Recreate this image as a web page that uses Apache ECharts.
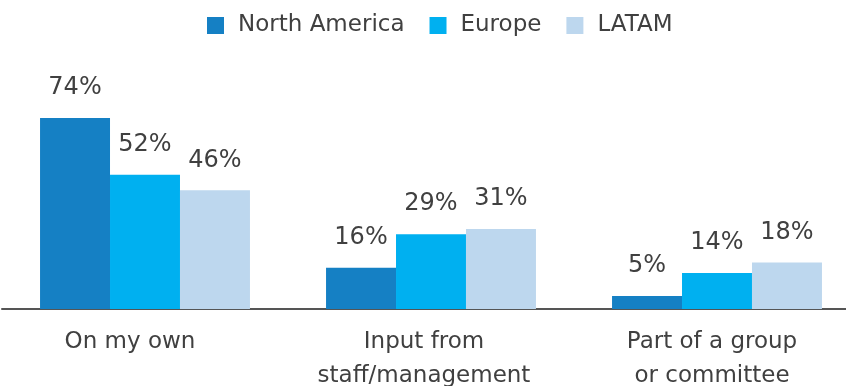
<!DOCTYPE html>
<html><head><meta charset="utf-8">
<script src="https://cdn.jsdelivr.net/npm/echarts@6/dist/echarts.min.js"></script>
<style>html,body{margin:0;padding:0;background:#fff}#c{width:846px;height:386px}</style>
</head><body><div id="c"></div>
<script>
const categories = ['On my own', 'Input from\nstaff/management', 'Part of a group\nor committee'];
const seriesNames = ['North America', 'Europe', 'LATAM'];
const northAmerica = [74, 16, 5];
const europe = [52, 29, 14];
const latam = [46, 31, 18];
const colors = ['#1580C4', '#00B0F0', '#BDD7EE'];
const values = [northAmerica, europe, latam];
const labelShiftLeft = [30, 14, 10];
const font = 'DejaVu Sans';
const chart = echarts.init(document.getElementById('c'));
chart.setOption({
  animation: false,
  legend: {
    top: 9, left: 202, itemWidth: 17, itemHeight: 17, itemGap: 25,
    icon: 'rect',
    textStyle: {fontSize: 23, color: '#404040', fontFamily: font, padding: [0,0,0,9]}
  },
  grid: {left: 2, width: 858, top: 51, bottom: 77, containLabel: false, outerBoundsMode: 'none'},
  xAxis: {
    type: 'category',
    data: categories.map((c, i) => ({value: c, textStyle: {padding: [0, labelShiftLeft[i], 0, 0]}})),
    axisLine: {lineStyle: {color: '#555', width: 2}},
    axisTick: {show: false},
    axisLabel: {fontSize: 23, color: '#404040', fontFamily: font, margin: 16, lineHeight: 34, interval: 0}
  },
  yAxis: {type: 'value', min: 0, max: 100, show: false, splitLine: {show: false}},
  series: seriesNames.map((n, i) => ({
    name: n, type: 'bar', data: values[i], barGap: '0%', barCategoryGap: '26.6%',
    itemStyle: {color: colors[i]},
    label: {show: true, position: 'top', distance: 18, formatter: '{c}%', fontSize: 24, color: '#404040', fontFamily: font}
  }))
});
</script></body></html>
